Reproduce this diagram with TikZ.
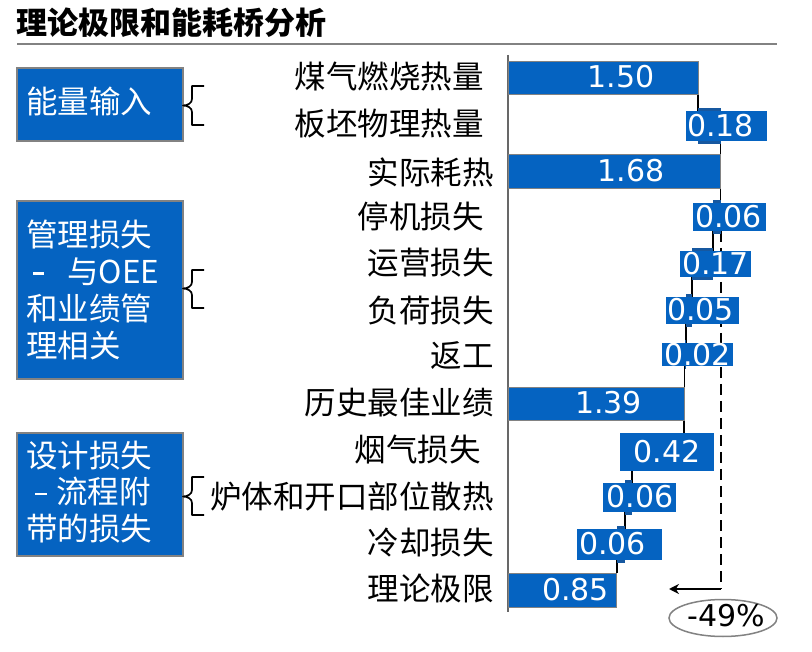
\documentclass[tikz,border=0pt]{standalone}
\usepackage{fontspec}
\setmainfont{Noto Sans CJK SC}
\newfontfamily\numfont{DejaVu Sans}
\usetikzlibrary{arrows.meta,shapes.geometric}
\definecolor{barblue}{RGB}{5,99,193}
\definecolor{bardark}{RGB}{22,88,160}
\definecolor{edgegray}{RGB}{130,130,130}
\newcommand{\mydash}[1]{\rule[9pt]{#1}{2.4pt}}
\begin{document}
\begin{tikzpicture}[x=1pt,y=-1pt,
  cat/.style={anchor=east, inner sep=0pt, font=\fontsize{31.5}{36}\selectfont},
  num/.style={inner sep=0pt, text=white, font=\numfont\fontsize{30}{36}\selectfont},
  fullbar/.style={fill=barblue, draw=edgegray, line width=0.8pt},
  lblbox/.style={fill=barblue},
  realbar/.style={fill=bardark},
  conn/.style={line width=1.8pt, black},
  leftbox/.style={fill=barblue, draw=edgegray, line width=1.6pt},
  boxtext/.style={anchor=west, inner sep=0pt, text=white, align=left, font=\fontsize{31.5}{36.7}\selectfont},
  bracepath/.style={line width=1.7pt, black, line join=round},
]
\useasboundingbox (0,0) rectangle (812,652);
\fill[white] (0,0) rectangle (812,652);

% title
\node[anchor=west, inner sep=0pt, font=\bfseries\fontsize{31}{36}\selectfont] (title) at (16,23) {理论极限和能耗桥分析};
\coordinate (ul1) at (17,44);
\coordinate (ul2) at (777,44);
\draw[edgegray, line width=1.8pt] (ul1) -- (ul2);

% axis
\coordinate (ax1) at (508,55);
\coordinate (ax2) at (508,612);
\draw[edgegray!80!black, line width=1.8pt] (ax1) -- (ax2);

% dashed reference line and arrow
\coordinate (d1) at (720.7,231);
\coordinate (d2) at (720.7,589);
\coordinate (d3) at (669,589);
\draw[line width=1.7pt, dash pattern=on 11pt off 6pt] (d1) -- (d2);
\draw[line width=2pt, -{Stealth[length=10pt,width=10pt]}] (d2) -- (d3);

% connectors
\coordinate (k1a) at (698,94);  \coordinate (k1b) at (698,111);
\coordinate (k2a) at (720.5,141); \coordinate (k2b) at (720.5,154);
\coordinate (k3a) at (720.5,188); \coordinate (k3b) at (720.5,203);
\coordinate (k4a) at (713,231); \coordinate (k4b) at (713,251);
\coordinate (k5a) at (692,277); \coordinate (k5b) at (692,297);
\coordinate (k6a) at (686,324); \coordinate (k6b) at (686,343);
\coordinate (k7a) at (684.5,366); \coordinate (k7b) at (684.5,387);
\coordinate (k8a) at (684,420); \coordinate (k8b) at (684,433);
\coordinate (k9a) at (632,471); \coordinate (k9b) at (632,483);
\coordinate (k10a) at (625,512); \coordinate (k10b) at (625,529);
\coordinate (k11a) at (617,560); \coordinate (k11b) at (617,573);
\foreach \i in {1,...,11} { \draw[conn] (k\i a) -- (k\i b); }

% full bars
\draw[fullbar] (508,61) rectangle (698,94);
\draw[fullbar] (508,154) rectangle (720.7,188);
\draw[fullbar] (508,387) rectangle (684,420);
\draw[fullbar] (508,573) rectangle (616,607);

% real loss bars (peeking out of the label boxes)
\fill[realbar] (698,108) rectangle (720.5,144);
\fill[realbar] (713,200) rectangle (720.7,234);
\fill[realbar] (692,248) rectangle (713,280);
\fill[realbar] (686,294) rectangle (692,327);
\fill[realbar] (684.5,340) rectangle (686,369);
\fill[realbar] (625,480) rectangle (632,515);
\fill[realbar] (617,526) rectangle (625,563);

% label boxes
\fill[lblbox] (686,111) rectangle (767,141);
\fill[lblbox] (693,203) rectangle (766,231);
\fill[lblbox] (680,251) rectangle (751,277);
\fill[lblbox] (666,297) rectangle (739,324);
\fill[lblbox] (662,343) rectangle (733,366);
\fill[lblbox] (620,433) rectangle (714,471);
\fill[lblbox] (603,483) rectangle (676,512);
\fill[lblbox] (577,529) rectangle (662,560);

% values
\node[num] (v1) at (621,77) {1.50};
\node[num] (v2) at (720.5,126) {0.18};
\node[num] (v3) at (631,171) {1.68};
\node[num] (v4) at (728.5,217) {0.06};
\node[num] (v5) at (715.5,264) {0.17};
\node[num] (v6) at (700.5,310) {0.05};
\node[num] (v7) at (697.5,355) {0.02};
\node[num] (v8) at (608.5,403) {1.39};
\node[num] (v9) at (667,452) {0.42};
\node[num] (v10) at (640,497) {0.06};
\node[num] (v11) at (612.5,544) {0.06};
\node[num] (v12) at (575.5,590) {0.85};

% category labels
\node[cat] (l1) at (484,77) {煤气燃烧热量};
\node[cat] (l2) at (484,124) {板坯物理热量};
\node[cat] (l3) at (494,172) {实际耗热};
\node[cat] (l4) at (484,217) {停机损失};
\node[cat] (l5) at (494,263) {运营损失};
\node[cat] (l6) at (494,311) {负荷损失};
\node[cat] (l7) at (494,356) {返工};
\node[cat] (l8) at (494,403) {历史最佳业绩};
\node[cat] (l9) at (481,450) {烟气损失};
\node[cat] (l10) at (494,496) {炉体和开口部位散热};
\node[cat] (l11) at (494,543) {冷却损失};
\node[cat] (l12) at (494,589) {理论极限};

% left boxes
\draw[leftbox] (17,68) rectangle (183,141);
\draw[leftbox] (17,201) rectangle (183,379);
\draw[leftbox] (17,433) rectangle (183,556);
\node[boxtext] (t1) at (26,101) {能量输入};
\node[boxtext] (t2) at (26,290) {管理损失\\\hspace*{7pt}\mydash{11pt}\hspace*{23pt}与OEE\\和业绩管\\理相关};
\node[boxtext] (t3) at (26,492) {设计损失\\\hspace*{9pt}\mydash{12pt}\hspace*{9pt}流程附\\带的损失};

% braces
\draw[bracepath] (204,86) -- (192,86) -- (192,99) to[out=-90,in=0] (183,105.5) to[out=0,in=90] (192,112) -- (192,125) -- (204,125);
\draw[bracepath] (204,270) -- (192,270) -- (192,282) to[out=-90,in=0] (183,288.5) to[out=0,in=90] (192,295) -- (192,308) -- (204,308);
\draw[bracepath] (204,477) -- (192,477) -- (192,490) to[out=-90,in=0] (183,496.5) to[out=0,in=90] (192,503) -- (192,515) -- (204,515);

% -49% ellipse
\node[ellipse, draw=edgegray, line width=1.5pt, minimum width=108pt, minimum height=37pt, inner sep=0pt] (pct) at (723,618) {};
\node[inner sep=0pt, font=\numfont\fontsize{30}{36}\selectfont] (pcttext) at (726,616) {-49\%};
\end{tikzpicture}
\end{document}
